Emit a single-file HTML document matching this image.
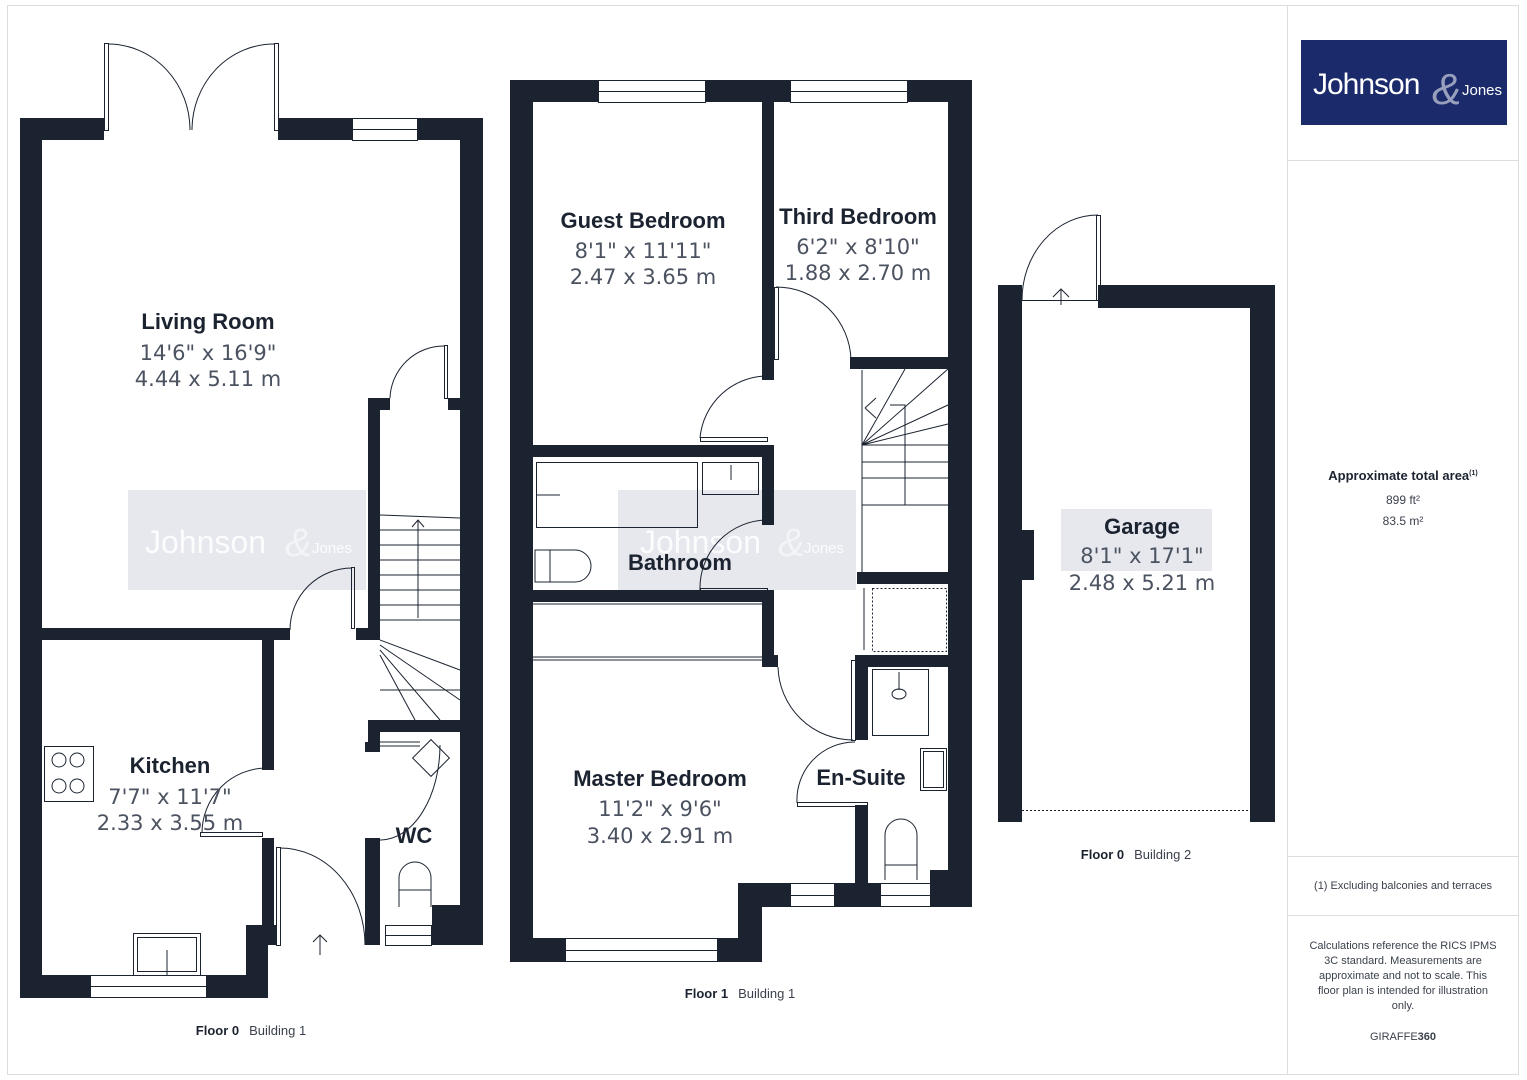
<!DOCTYPE html>
<html><head><meta charset="utf-8"><style>
html,body{margin:0;padding:0;background:#fff}
svg{display:block}
.t{font-family:"Liberation Sans",sans-serif;fill:#1c2330;font-weight:bold;text-anchor:middle}
.d{font-family:"DejaVu Sans",sans-serif;fill:#4b5260;text-anchor:middle}
.s{font-family:"Liberation Sans",sans-serif;fill:#3b414c;text-anchor:middle}
.w{font-family:"Liberation Sans",sans-serif;fill:#fff;}
</style></head><body>
<svg width="1527" height="1080" viewBox="0 0 1527 1080" xmlns="http://www.w3.org/2000/svg">
<rect x="7.5" y="5.5" width="1511" height="1069" fill="none" stroke="#ddd"/>
<line x1="1287.5" y1="5" x2="1287.5" y2="1075" stroke="#ddd"/>
<line x1="1288" y1="160.5" x2="1518" y2="160.5" stroke="#ddd"/>
<line x1="1288" y1="856.5" x2="1518" y2="856.5" stroke="#ddd"/>
<line x1="1288" y1="915.5" x2="1518" y2="915.5" stroke="#ddd"/>

<!-- watermarks -->
<rect x="128" y="490" width="238" height="100" fill="#e6e8ee"/>
<text x="145" y="553" class="w" font-size="32" fill-opacity="0.85">Johnson</text><text x="285" y="556" class="w" font-size="40" font-style="italic" fill-opacity="0.5">&amp;</text><text x="312" y="553" class="w" font-size="15" fill-opacity="0.85">Jones</text>
<rect x="618" y="490" width="238" height="100" fill="#e6e8ee"/>
<text x="640" y="553" class="w" font-size="32" fill-opacity="0.85">Johnson</text><text x="778" y="556" class="w" font-size="40" font-style="italic" fill-opacity="0.5">&amp;</text><text x="804" y="553" class="w" font-size="15" fill-opacity="0.85">Jones</text>
<rect x="1061" y="509" width="151" height="62" fill="#e6e8ee"/>

<g fill="#1b2330">
<!-- Floor 0 -->
<rect x="20" y="118" width="84" height="22"/>
<rect x="278" y="118" width="74" height="22"/>
<rect x="418" y="118" width="65" height="22"/>
<rect x="20" y="118" width="22" height="880"/>
<rect x="460" y="118" width="23" height="827"/>
<rect x="368" y="398" width="12" height="242"/>
<rect x="368" y="398" width="22" height="12"/>
<rect x="448" y="398" width="12" height="12"/>
<rect x="42" y="628" width="248" height="12"/>
<rect x="356" y="628" width="24" height="12"/>
<rect x="262" y="640" width="12" height="130"/>
<rect x="262" y="838" width="12" height="107"/>
<rect x="246" y="925" width="22" height="73"/>
<rect x="262" y="925" width="14" height="20"/>
<rect x="20" y="975" width="70" height="23"/>
<rect x="207" y="975" width="61" height="23"/>
<rect x="368" y="720" width="92" height="12"/>
<rect x="368" y="732" width="12" height="20"/>
<rect x="365" y="742" width="15" height="10"/>
<rect x="365" y="838" width="15" height="107"/>
<rect x="432" y="905" width="51" height="40"/>
<!-- Floor 1 -->
<rect x="510" y="80" width="88" height="22"/>
<rect x="706" y="80" width="84" height="22"/>
<rect x="908" y="80" width="64" height="22"/>
<rect x="510" y="80" width="23" height="882"/>
<rect x="948" y="80" width="24" height="827"/>
<rect x="762" y="102" width="12" height="278"/>
<rect x="850" y="357" width="98" height="12"/>
<rect x="533" y="445" width="241" height="12"/>
<rect x="762" y="445" width="12" height="80"/>
<rect x="533" y="590" width="241" height="12"/>
<rect x="762" y="590" width="12" height="75"/>
<rect x="762" y="655" width="16" height="12"/>
<rect x="857" y="572" width="91" height="12"/>
<rect x="855" y="655" width="93" height="12"/>
<rect x="855" y="655" width="13" height="85"/>
<rect x="855" y="805" width="13" height="80"/>
<rect x="930" y="870" width="18" height="37"/>
<rect x="835" y="883" width="45" height="24"/>
<rect x="738" y="883" width="52" height="24"/>
<rect x="738" y="883" width="24" height="79"/>
<rect x="510" y="938" width="55" height="24"/>
<rect x="718" y="938" width="44" height="24"/>
<!-- Garage -->
<rect x="998" y="285" width="24" height="537"/>
<rect x="1098" y="285" width="177" height="23"/>
<rect x="1250" y="285" width="25" height="537"/>
<rect x="1022" y="530" width="12" height="50"/>
</g>

<g fill="none" stroke="#1b2330" stroke-width="1">
<rect x="352.5" y="118.5" width="65" height="22"/><line x1="352" y1="129.5" x2="418" y2="129.5"/>
<rect x="90.5" y="975.5" width="116" height="22"/><line x1="90" y1="986.5" x2="207" y2="986.5"/>
<rect x="385.5" y="925.5" width="46" height="20"/><line x1="385" y1="935.5" x2="432" y2="935.5"/>
<rect x="598.5" y="80.5" width="107" height="22"/><line x1="598" y1="91.5" x2="706" y2="91.5"/>
<rect x="790.5" y="80.5" width="117" height="22"/><line x1="790" y1="91.5" x2="908" y2="91.5"/>
<rect x="565.5" y="938.5" width="152" height="23"/><line x1="565" y1="950.5" x2="718" y2="950.5"/>
<rect x="790.5" y="883.5" width="44" height="23"/><line x1="790" y1="895.5" x2="835" y2="895.5"/>
<rect x="880.5" y="883.5" width="50" height="23"/><line x1="880" y1="895.5" x2="930" y2="895.5"/>
<line x1="1022" y1="810.5" x2="1250" y2="810.5" stroke-dasharray="2,2"/>
<rect x="104.5" y="43.5" width="4" height="87"/><rect x="274.5" y="43.5" width="4" height="87"/>
<path d="M108 44 A82 86 0 0 1 190 130"/><path d="M274 44 A82 86 0 0 0 192 130"/>
<rect x="444.5" y="345.5" width="3" height="53"/><path d="M444 346 A54 54 0 0 0 390 398"/>
<rect x="351.5" y="567.5" width="3" height="61"/><path d="M352 568 A62 62 0 0 0 290 630"/>
<rect x="200.5" y="832.5" width="62" height="4"/><path d="M202 833 A65 65 0 0 1 266 768"/>
<rect x="276.5" y="847.5" width="4" height="98"/><path d="M280 848 A85 97 0 0 1 365 945"/>
<path d="M380 742 L420 742"/><path d="M380 746 L420 746"/>
<path d="M380 840 A60 95 0 0 0 440 745"/>
<line x1="320" y1="935" x2="320" y2="955"/><path d="M313 942 L320 935 L327 942"/>
<rect x="774.5" y="287.5" width="4" height="72"/><path d="M776 287 A75 75 0 0 1 851 360"/>
<rect x="700.5" y="437.5" width="67" height="4"/><path d="M700 438 A68 68 0 0 1 768 376"/>
<rect x="700.5" y="588.5" width="67" height="4"/><path d="M700 590 A68 68 0 0 1 768 520"/>
<path d="M778 667 A75 75 0 0 0 853 740"/>
<rect x="851.5" y="660.5" width="4" height="80"/>
<rect x="797.5" y="802.5" width="70" height="4"/><path d="M797 803 A58 58 0 0 1 855 742"/>
<rect x="1096.5" y="215.5" width="4" height="85"/><path d="M1022 300 A76 85 0 0 1 1098 215"/>
<line x1="1022" y1="300.5" x2="1098" y2="300.5"/>
<line x1="1061" y1="290" x2="1061" y2="305"/><path d="M1053 297 L1061 289 L1069 297"/>
<path d="M380 515 L460 518 M380 530 L460 530 M380 545 L460 545 M380 560 L460 560 M380 575 L460 575 M380 590 L460 590 M380 605 L460 605 M380 620 L460 620"/>
<path d="M418 520 L418 618"/><path d="M412 527 L418 520 L424 527"/>
<path d="M380 640 L460 670 M380 645 L460 700 M380 650 L440 720 M380 655 L415 720 M380 690 L460 690"/>
<path d="M862 370 L862 572 M862 445 L948 445 M862 462 L948 462 M862 478 L948 478 M862 505 L948 505"/>
<path d="M862 445 L905 369 M862 445 L948 369 M862 445 L948 405 M862 445 L948 424 M890 405 L905 405 L905 505"/>
<path d="M865 408 L876 398 M865 408 L876 418"/>
<rect x="872.5" y="588.5" width="74" height="63" stroke-dasharray="2,2"/>
<line x1="864" y1="588" x2="864" y2="650"/>
<rect x="44.5" y="746.5" width="49" height="55"/>
<circle cx="59" cy="760" r="7"/><circle cx="77" cy="760" r="7"/><circle cx="59" cy="786" r="7"/><circle cx="77" cy="786" r="7"/>
<rect x="133.5" y="933.5" width="67" height="42"/><rect x="137.5" y="937.5" width="59" height="34"/><line x1="167" y1="950" x2="167" y2="975"/>
<path d="M399 907 L399 878 A16 16 0 0 1 431 878 L431 907"/><line x1="399" y1="890" x2="431" y2="890"/>
<rect x="418" y="745" width="26" height="26" transform="rotate(45 431 758)"/>
<rect x="536.5" y="462.5" width="161" height="65"/><line x1="536" y1="495" x2="560" y2="495"/>
<rect x="702.5" y="462.5" width="56" height="32"/><line x1="731" y1="465" x2="731" y2="480"/>
<path d="M535 550 L575 550 A16 16 0 0 1 575 582 L535 582 Z"/><line x1="550" y1="550" x2="550" y2="582"/>
<line x1="533" y1="604" x2="762" y2="604"/><line x1="533" y1="657" x2="762" y2="657"/><line x1="533" y1="660" x2="762" y2="660"/>
<rect x="872.5" y="669.5" width="56" height="66"/><ellipse cx="899" cy="694" rx="7" ry="5"/><line x1="899" y1="672" x2="899" y2="690"/>
<rect x="920.5" y="748.5" width="26" height="42"/><rect x="923.5" y="751.5" width="20" height="36"/>
<path d="M885 880 L885 835 A16 16 0 0 1 917 835 L917 880"/><line x1="885" y1="865" x2="917" y2="865"/>
</g>

<text x="208" y="329" class="t" font-size="22">Living Room</text>
<text x="208" y="360" class="d" font-size="21">14'6" x 16'9"</text>
<text x="208" y="386" class="d" font-size="21">4.44 x 5.11 m</text>
<text x="170" y="773" class="t" font-size="22">Kitchen</text>
<text x="170" y="804" class="d" font-size="21">7'7" x 11'7"</text>
<text x="170" y="830" class="d" font-size="21">2.33 x 3.55 m</text>
<text x="414" y="843" class="t" font-size="22">WC</text>
<text x="643" y="228" class="t" font-size="22">Guest Bedroom</text>
<text x="643" y="258" class="d" font-size="21">8'1" x 11'11"</text>
<text x="643" y="284" class="d" font-size="21">2.47 x 3.65 m</text>
<text x="858" y="224" class="t" font-size="22">Third Bedroom</text>
<text x="858" y="254" class="d" font-size="21">6'2" x 8'10"</text>
<text x="858" y="280" class="d" font-size="21">1.88 x 2.70 m</text>
<text x="680" y="570" class="t" font-size="22">Bathroom</text>
<text x="660" y="786" class="t" font-size="22">Master Bedroom</text>
<text x="660" y="816" class="d" font-size="21">11'2" x 9'6"</text>
<text x="660" y="843" class="d" font-size="21">3.40 x 2.91 m</text>
<text x="861" y="785" class="t" font-size="22">En-Suite</text>
<text x="1142" y="534" class="t" font-size="22">Garage</text>
<text x="1142" y="563" class="d" font-size="21">8'1" x 17'1"</text>
<text x="1142" y="590" class="d" font-size="21">2.48 x 5.21 m</text>

<text x="251" y="1035" class="s" font-size="13"><tspan font-weight="bold" fill="#1c2330">Floor 0</tspan><tspan dx="10">Building 1</tspan></text>
<text x="740" y="998" class="s" font-size="13"><tspan font-weight="bold" fill="#1c2330">Floor 1</tspan><tspan dx="10">Building 1</tspan></text>
<text x="1136" y="859" class="s" font-size="13"><tspan font-weight="bold" fill="#1c2330">Floor 0</tspan><tspan dx="10">Building 2</tspan></text>

<rect x="1301" y="40" width="206" height="85" fill="#1b2a6b"/>
<text x="1313" y="94" class="w" font-size="30" letter-spacing="-1">Johnson</text>
<text x="1432" y="104" class="w" font-size="44" font-style="italic" font-family="Liberation Serif,serif" fill-opacity="0.55">&amp;</text>
<text x="1462" y="95" class="w" font-size="15">Jones</text>

<text x="1403" y="480" class="t" font-size="13">Approximate total area<tspan font-size="7" dy="-5">(1)</tspan></text>
<text x="1403" y="504" class="s" font-size="12">899 ft²</text>
<text x="1403" y="525" class="s" font-size="12">83.5 m²</text>
<text x="1403" y="889" class="s" font-size="11">(1) Excluding balconies and terraces</text>
<text class="s" font-size="11"><tspan x="1403" y="949">Calculations reference the RICS IPMS</tspan><tspan x="1403" y="964">3C standard. Measurements are</tspan><tspan x="1403" y="979">approximate and not to scale. This</tspan><tspan x="1403" y="994">floor plan is intended for illustration</tspan><tspan x="1403" y="1009">only.</tspan></text>
<text x="1403" y="1040" class="s" font-size="11">GIRAFFE<tspan font-weight="bold">360</tspan></text>
</svg>
</body></html>
